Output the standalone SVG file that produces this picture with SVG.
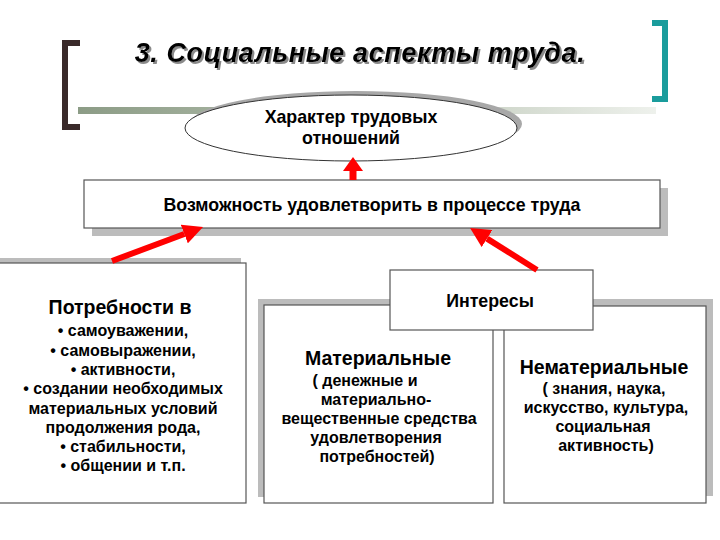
<svg xmlns="http://www.w3.org/2000/svg" width="720" height="540" viewBox="0 0 720 540">
<defs>
<linearGradient id="barGrad" x1="0" y1="0" x2="1" y2="0">
<stop offset="0" stop-color="#8c9c86"/>
<stop offset="0.5" stop-color="#b7c2b1"/>
<stop offset="1" stop-color="#eef1ec"/>
</linearGradient>
<filter id="tshadow" x="-5%" y="-20%" width="110%" height="150%">
<feDropShadow dx="2" dy="2" stdDeviation="0.6" flood-color="#8a8a8a" flood-opacity="1"/>
</filter>
<marker id="headBig" viewBox="0 0 20 20" markerWidth="20" markerHeight="20" refX="0" refY="10" orient="auto" markerUnits="userSpaceOnUse">
<path d="M0,0 L20,10 L0,20 z" fill="#ff0000"/>
</marker>
<marker id="headSmall" viewBox="0 0 14 20" markerWidth="14" markerHeight="20" refX="0" refY="10" orient="auto" markerUnits="userSpaceOnUse">
<path d="M0,0 L14,10 L0,20 z" fill="#ff0000"/>
</marker>
</defs>
<style>
text { font-family: "Liberation Sans", Arial, sans-serif; font-weight: bold; fill: #000; }
.title { font-size: 27px; font-style: italic; text-anchor: middle; letter-spacing: 0.6px; }
.box { fill: #ffffff; stroke: #555555; stroke-width: 1.2; }
.shadow { fill: #bcbcbc; }
.head { font-size: 19.5px; text-anchor: middle; }
.body { font-size: 16px; text-anchor: middle; }
.mid { font-size: 17.8px; text-anchor: middle; }
.arrow { stroke: #ff0000; fill: none; }
</style>
<rect width="720" height="540" fill="#ffffff"/>

<g id="decor">
<rect x="78" y="107" width="578" height="7" fill="url(#barGrad)"/>
<path d="M80,40 L62,40 L62,130 L80,130 L80,124 L68,124 L68,46 L80,46 z" fill="#3a2a2a"/>
<path d="M652,20 L668,20 L668,102 L652,102 L652,96 L662,96 L662,26 L652,26 z" fill="#1a9c9c"/>
</g>

<g id="title">
<text class="title" x="360" y="62" filter="url(#tshadow)">3. Социальные аспекты труда.</text>
</g>

<g id="node-character">
<ellipse cx="356" cy="124" rx="166" ry="33" fill="#a8a8a8"/>
<ellipse cx="351" cy="128" rx="166" ry="33" fill="#ffffff" stroke="#333333" stroke-width="1"/>
<text class="mid" x="351" y="123">Характер трудовых</text>
<text class="mid" x="351" y="144">отношений</text>
</g>

<g id="node-possibility">
<rect class="shadow" x="92" y="188" width="576" height="48"/>
<rect class="box" x="84" y="180" width="576" height="48"/>
<text class="mid" x="372" y="211">Возможность удовлетворить в процессе труда</text>
</g>

<g id="node-needs">
<rect class="shadow" x="-7" y="258" width="248" height="240"/>
<rect class="box" x="-2" y="263" width="248" height="240"/>
<text class="head" x="120" y="314">Потребности в</text>
<text class="body" x="123" y="336">• самоуважении,</text>
<text class="body" x="123" y="356">• самовыражении,</text>
<text class="body" x="123" y="375">• активности,</text>
<text class="body" x="123" y="394">• создании необходимых</text>
<text class="body" x="123" y="414">материальных условий</text>
<text class="body" x="123" y="433">продолжения рода,</text>
<text class="body" x="123" y="452">• стабильности,</text>
<text class="body" x="123" y="471">• общении и т.п.</text>
</g>

<g id="node-material">
<rect class="shadow" x="258" y="299" width="229" height="198"/>
<rect class="box" x="264" y="305" width="229" height="198"/>
<text class="head" x="378" y="365">Материальные</text>
<text class="body" x="365" y="386">( денежные и</text>
<text class="body" x="376" y="405">материально-</text>
<text class="body" x="379" y="424">вещественные средства</text>
<text class="body" x="376" y="443">удовлетворения</text>
<text class="body" x="377" y="462">потребностей)</text>
</g>

<g id="node-nonmaterial">
<rect class="shadow" x="511" y="299" width="202" height="197"/>
<rect class="box" x="504" y="306" width="202" height="197"/>
<text class="head" x="604" y="374">Нематериальные</text>
<text class="body" x="604" y="394">( знания, наука,</text>
<text class="body" x="606" y="413">искусство, культура,</text>
<text class="body" x="603" y="432">социальная</text>
<text class="body" x="606" y="451">активность)</text>
</g>

<g id="node-interests">
<rect class="box" x="390" y="270" width="203" height="60"/>
<text class="mid" x="490" y="307">Интересы</text>
</g>

<g id="connectors">
<line class="arrow" x1="353" y1="180" x2="353" y2="171" stroke-width="7" marker-end="url(#headSmall)"/>
<line class="arrow" x1="112" y1="261" x2="184.3" y2="234" stroke-width="6" marker-end="url(#headBig)"/>
<line class="arrow" x1="537" y1="270" x2="487" y2="238.6" stroke-width="6" marker-end="url(#headBig)"/>
</g>
</svg>
